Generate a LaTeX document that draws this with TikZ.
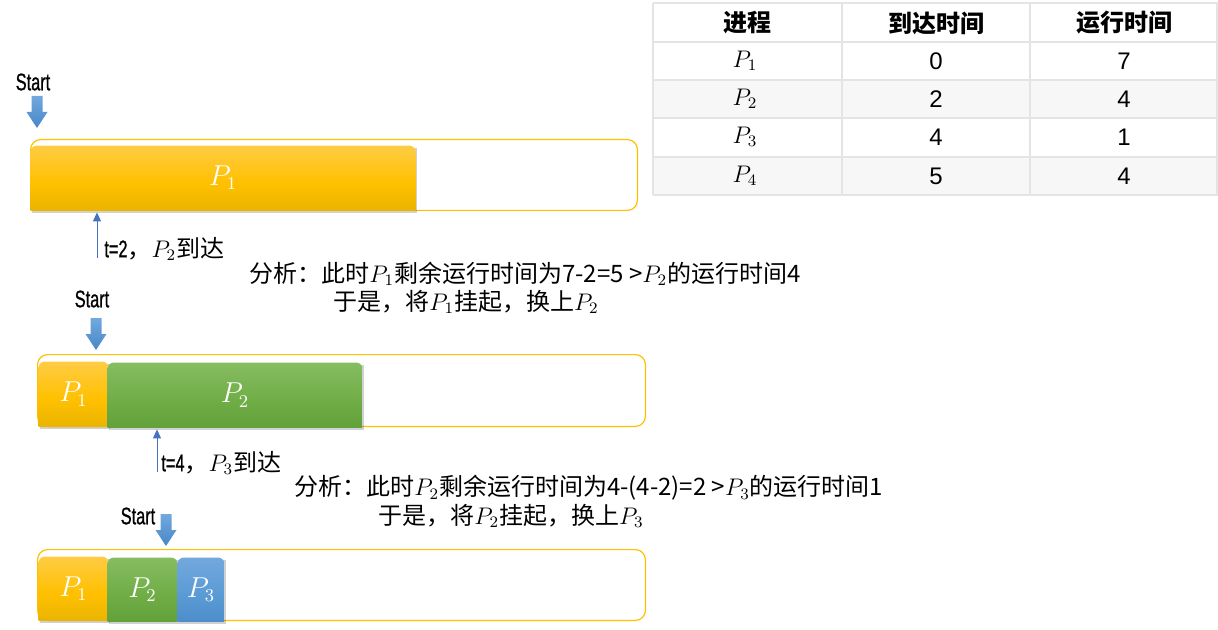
\documentclass[tikz,border=0pt]{standalone}
\usepackage{fontspec}
\setmainfont{Noto Sans CJK SC}
\newfontfamily\condfont{Liberation Sans}[FakeStretch=0.68, FakeBold=0.8]
\newfontfamily\numfont{Liberation Sans}
\usetikzlibrary{
    arrows.meta,
    backgrounds,
    positioning
}
\definecolor{trackline}{HTML}{FFC000}
\definecolor{goldtop}{HTML}{FFCC44}
\definecolor{goldmid}{HTML}{FFC000}
\definecolor{goldbot}{HTML}{E2B000}
\definecolor{greentop}{HTML}{86BD60}
\definecolor{greenmid}{HTML}{70AD47}
\definecolor{greenbot}{HTML}{5E9C35}
\definecolor{bluetop}{HTML}{72A8DE}
\definecolor{bluemid}{HTML}{5B9BD5}
\definecolor{bluebot}{HTML}{4788C8}
\definecolor{tickblue}{HTML}{4472C4}
\definecolor{gridgray}{HTML}{E4E4E4}
\definecolor{rowgray}{HTML}{F7F7F7}

\begin{document}
\begin{tikzpicture}[x=0.5pt, y=-0.5pt,
    track/.style={draw=trackline, line width=0.6pt, rounded corners=5pt},
    slot/.style={inner sep=0pt, text=white, font=\fontsize{13.5}{15}\selectfont},
    frame/.style={inner sep=0pt},
    goldbar/.style={top color=goldtop, bottom color=goldbot, middle color=goldmid},
    greenbar/.style={top color=greentop, bottom color=greenbot, middle color=greenmid},
    bluebar/.style={top color=bluetop, bottom color=bluebot, middle color=bluemid},
    barshadow/.style={fill=black, opacity=0.18},
    startlbl/.style={inner sep=0pt, font=\fontsize{12}{14}\selectfont\condfont},
    startarrow/.style={top color=bluetop, bottom color=bluebot},
    tick/.style={draw=tickblue, line width=0.5pt, -{Triangle[width=4pt, length=4.5pt]}, shorten >=1pt},
    arrival/.style={anchor=west, inner sep=0pt, font=\fontsize{12}{14}\selectfont},
    note/.style={anchor=west, inner sep=0pt, font=\fontsize{12}{14}\selectfont},
    grid/.style={draw=gridgray, line width=1pt},
    hdr/.style={inner sep=0pt, font=\fontsize{12}{14}\selectfont\bfseries},
    cell/.style={inner sep=0pt, font=\fontsize{12}{14}\selectfont\numfont}
]
\useasboundingbox (0,0) rectangle (1218,630);

% table
\fill[rowgray] (653,80) rectangle (1218,118);
\fill[rowgray] (653,157) rectangle (1218,195);
\foreach \y in {3,42,80,118,157,195}
    \draw[grid] (653,\y) -- (1218,\y);
\foreach \x in {653,842,1030,1217}
    \draw[grid] (\x,3) -- (\x,195);
\node[hdr] (h1) at (747,23) {进程};
\node[hdr] (h2) at (936,23) {到达时间};
\node[hdr] (h3) at (1124,23) {运行时间};
\foreach \r/\p/\a/\t in {61/1/0/7, 99/2/2/4, 137/3/4/1, 176/4/5/4} {
    \node[cell] (p\p) at (745,\r) {$P_\p$};
    \node[cell] (a\p) at (936,\r) {\a};
    \node[cell] (r\p) at (1124,\r) {\t};
}

% time lines
\node[frame, minimum width=303pt, minimum height=35pt] (tl1) at (334,175) {};
\node[frame, minimum width=303.5pt, minimum height=35.5pt] (tl2) at (341.5,390.5) {};
\node[frame, minimum width=303.5pt, minimum height=35pt] (tl3) at (341.5,585) {};

\node[slot, minimum width=192pt, minimum height=32pt] (b1p1) at (223,178) {$P_1$};
\node[slot, minimum width=34.5pt, minimum height=32pt] (b2p1) at (73.5,394) {$P_1$};
\node[slot, minimum width=127pt, minimum height=32pt] (b2p2) at (235,395) {$P_2$};
\node[slot, minimum width=34.5pt, minimum height=31.5pt] (b3p1) at (73.5,588.5) {$P_1$};
\node[slot, minimum width=34.5pt, minimum height=31.5pt] (b3p2) at (142.5,589.5) {$P_2$};
\node[slot, minimum width=23pt, minimum height=31.5pt] (b3p3) at (201,589.5) {$P_3$};

\begin{pgfonlayer}{background}
    \foreach \t in {tl1,tl2,tl3}
        \draw[track] (\t.south west) rectangle (\t.north east);
    \foreach \b/\s in {b1p1/goldbar, b2p1/goldbar, b2p2/greenbar, b3p1/goldbar, b3p2/greenbar, b3p3/bluebar} {
        \fill[barshadow] ([shift={(0.7pt,-1.2pt)}]\b.south west) rectangle ([shift={(0.7pt,-1.2pt)}]\b.north east);
        \begin{scope}
            \clip (\b.south west) rectangle (\b.north east);
            \shade[\s, rounded corners=3pt] ([yshift=-5pt]\b.south west) rectangle (\b.north east);
        \end{scope}
    }
\end{pgfonlayer}

% start marks
\node[startlbl] (s1) at (33,82) {Start};
\node[startlbl] (s2) at (92,299) {Start};
\node[startlbl] (s3) at (138,516) {Start};
\foreach \x/\y in {37/96, 96/318, 166/514}
    \shade[startarrow, shift={(\x,\y)}] (-5.5,0) -- (5.5,0) -- (5.5,16) -- (10.5,16) -- (0,32) -- (-10.5,16) -- (-5.5,16) -- cycle;

% arrivals
\coordinate (t1) at (97,258);
\coordinate (t2) at (157,472);
\draw[tick] (t1) -- (t1 |- b1p1.south);
\draw[tick] (t2) -- (t2 |- b2p2.south);
\node[arrival] (t1lbl) at (104,249) {{\condfont t=2}，$P_2$到达};
\node[arrival] (t2lbl) at (161,463) {{\condfont t=4}，$P_3$到达};

% analysis
\node[note] (n1a) at (249,274) {分析：此时$P_1$剩余运行时间为7-2=5 >$P_2$的运行时间4};
\node[note] (n1b) at (333,302) {于是，将$P_1$挂起，换上$P_2$};
\node[note] (n2a) at (294,488) {分析：此时$P_2$剩余运行时间为4-(4-2)=2 >$P_3$的运行时间1};
\node[note] (n2b) at (378,516) {于是，将$P_2$挂起，换上$P_3$};
\end{tikzpicture}
\end{document}
